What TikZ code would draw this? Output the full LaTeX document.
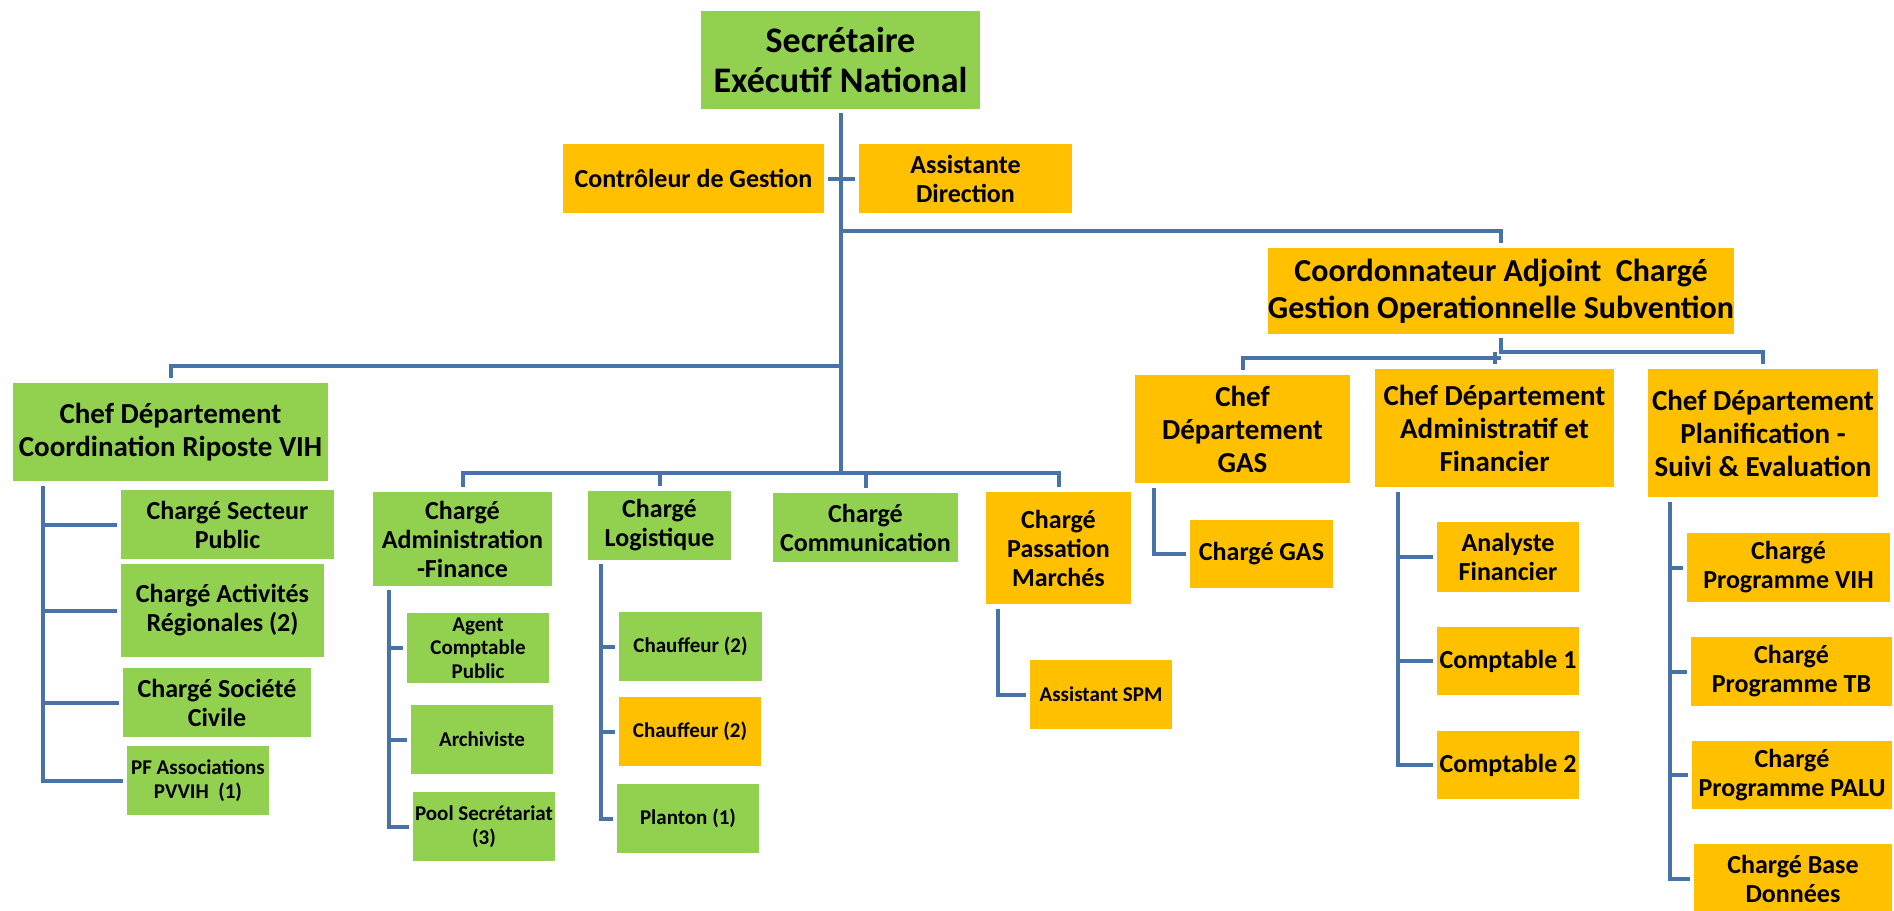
\documentclass[tikz,border=0pt]{standalone}
\usepackage{fontspec}
\setmainfont{Carlito}
\usepackage{tikz}
\definecolor{boxgreen}{RGB}{146,208,80}
\definecolor{boxorange}{RGB}{255,192,0}
\definecolor{linkblue}{RGB}{72,114,170}
\tikzset{
  box/.style={rectangle, inner sep=0pt, align=center},
  toptext/.style={font=\bfseries\fontsize{36}{40}\selectfont},
  headtext/.style={font=\bfseries\fontsize{32}{37}\selectfont},
  deptext/.style={font=\bfseries\fontsize{29}{33}\selectfont},
  postext/.style={font=\bfseries\fontsize{26}{29}\selectfont},
  subtext/.style={font=\bfseries\fontsize{21}{23.5}\selectfont},
  link/.style={draw=linkblue, line width=4pt}
}

\begin{document}
\begin{tikzpicture}[x=1pt, y=-1pt]
   \useasboundingbox (0,0) rectangle (1894,910);
   \begin{scope}[every node/.style={box, fill=boxgreen}]
    % direction
    \node[toptext, minimum width=279pt, minimum height=98pt] (sen) at (840.5,60) {Secrétaire\\Exécutif National};
    \node[postext, fill=boxorange, minimum width=261pt, minimum height=69pt] (ctrl) at (693.5,178.5) {Contrôleur de Gestion};
    \node[postext, fill=boxorange, minimum width=213pt, minimum height=69pt] (asst) at (965.5,178.5) {Assistante\\Direction};
    \node[headtext, fill=boxorange, minimum width=466pt, minimum height=86pt] (coord) at (1501,291) {Coordonnateur Adjoint~ Chargé\\Gestion Operationnelle Subvention};
    % departements
    \node[deptext, minimum width=315pt, minimum height=98pt] (vih) at (170.5,432) {Chef Département\\Coordination Riposte VIH};
    \node[deptext, fill=boxorange, minimum width=215pt, minimum height=108pt] (gas) at (1242.5,429) {Chef\\Département\\GAS};
    \node[deptext, fill=boxorange, minimum width=239pt, minimum height=118pt] (daf) at (1494.5,428) {Chef Département\\Administratif et\\Financier};
    \node[deptext, fill=boxorange, minimum width=230pt, minimum height=128pt] (pse) at (1763,433) {Chef Département\\Planification -\\Suivi \& Evaluation};
    % charges
    \node[postext, minimum width=179pt, minimum height=94pt] (caf) at (462.5,539) {Chargé\\Administration\\-Finance};
    \node[postext, minimum width=143pt, minimum height=69pt] (clog) at (659.5,525.5) {Chargé\\Logistique};
    \node[postext, minimum width=185pt, minimum height=69pt] (ccom) at (865.5,527.5) {Chargé\\Communication};
    \node[postext, fill=boxorange, minimum width=145pt, minimum height=112pt] (cpm) at (1058.5,548) {Chargé\\Passation\\Marchés};
    % VIH
    \node[postext, minimum width=213pt, minimum height=69pt] (csp) at (227.5,524.5) {Chargé Secteur\\Public};
    \node[postext, minimum width=203pt, minimum height=93pt] (car) at (222.5,610.5) {Chargé Activités\\Régionales (2)};
    \node[postext, minimum width=188pt, minimum height=69pt] (csc) at (217,702.5) {Chargé Société\\Civile};
    \node[subtext, minimum width=142pt, minimum height=69pt] (pfa) at (198,780.5) {PF Associations\\PVVIH~ (1)};
    % administration-finance
    \node[subtext, minimum width=142pt, minimum height=70pt] (acp) at (478,648) {Agent\\Comptable\\Public};
    \node[subtext, minimum width=142pt, minimum height=69pt] (arc) at (482,739.5) {Archiviste};
    \node[subtext, minimum width=142pt, minimum height=69pt] (pool) at (484,826.5) {Pool Secrétariat\\(3)};
    % logistique
    \node[subtext, minimum width=143pt, minimum height=69pt] (ch1) at (690.5,646.5) {Chauffeur (2)};
    \node[subtext, fill=boxorange, minimum width=142pt, minimum height=69pt] (ch2) at (690,731.5) {Chauffeur (2)};
    \node[subtext, minimum width=142pt, minimum height=69pt] (plan) at (688,818.5) {Planton (1)};
    % passation
    \node[subtext, fill=boxorange, minimum width=142pt, minimum height=69pt] (spm) at (1101,694.5) {Assistant SPM};
    % GAS, DAF, PSE
    \node[postext, fill=boxorange, minimum width=143pt, minimum height=68pt] (cgas) at (1261.5,554) {Chargé GAS};
    \node[postext, fill=boxorange, minimum width=142pt, minimum height=70pt] (ana) at (1508,557) {Analyste\\Financier};
    \node[postext, fill=boxorange, minimum width=142pt, minimum height=68pt] (cpt1) at (1508,661) {Comptable 1};
    \node[postext, fill=boxorange, minimum width=142pt, minimum height=68pt] (cpt2) at (1508,765) {Comptable 2};
    \node[postext, fill=boxorange, minimum width=203pt, minimum height=69pt] (pvih) at (1788.5,567.5) {Chargé\\Programme VIH};
    \node[postext, fill=boxorange, minimum width=201pt, minimum height=69pt] (ptb) at (1791.5,671.5) {Chargé\\Programme TB};
    \node[postext, fill=boxorange, minimum width=200pt, minimum height=68pt] (palu) at (1792,775) {Chargé\\Programme PALU};
    \node[postext, fill=boxorange, minimum width=198pt, minimum height=69pt] (bdd) at (1793,878.5) {Chargé Base\\Données};
   \end{scope}
   % junctions
   \coordinate (rightjoin) at (840.5,231);
   \coordinate (leftjoin) at (840.5,366);
   \coordinate (rowjoin) at (840.5,473);
   \coordinate (coordjoin) at (1501,352);
   \coordinate (gasjoin) at (1501,358);
   \coordinate (vihspine) at ([shift={(30pt,-5pt)}]vih.south west);
   \coordinate (cafspine) at ([shift={(16pt,-4pt)}]caf.south west);
   \coordinate (logspine) at ([shift={(13pt,-4pt)}]clog.south west);
   \coordinate (pmspine) at ([shift={(12pt,-5pt)}]cpm.south west);
   \coordinate (gasspine) at ([shift={(19pt,-5pt)}]gas.south west);
   \coordinate (dafspine) at ([shift={(23pt,-5pt)}]daf.south west);
   \coordinate (psespine) at ([shift={(22pt,-5pt)}]pse.south west);
   \begin{scope}[every path/.style={link}]
    \draw ([yshift=-4pt]sen.south) -- (rowjoin);
    \draw ([xshift=4pt]ctrl.east) -- ([xshift=-4pt]asst.west);
    \draw (rightjoin) -| ([yshift=5pt]coord.north);
    \draw (leftjoin) -| ([yshift=5pt]vih.north);
    \foreach \n in {caf,clog,ccom,cpm}
      \draw (rowjoin) -| ([yshift=5pt]\n.north);
    \draw ([yshift=-4pt]coord.south) -- (coordjoin) -| ([yshift=5pt]pse.north);
    \draw (gasjoin) -| ([yshift=5pt]gas.north);
    \draw (daf.north |- coordjoin) -- ([yshift=5pt]daf.north);
    % spines
    \draw (vihspine) |- ([xshift=-4pt]pfa.west);
    \foreach \n in {csp,car,csc}
      \draw (vihspine |- \n.west) -- ([xshift=-4pt]\n.west);
    \draw (cafspine) |- ([xshift=-4pt]pool.west);
    \foreach \n in {acp,arc}
      \draw (cafspine |- \n.west) -- ([xshift=-4pt]\n.west);
    \draw (logspine) |- ([xshift=-4pt]plan.west);
    \foreach \n in {ch1,ch2}
      \draw (logspine |- \n.west) -- ([xshift=-4pt]\n.west);
    \draw (pmspine) |- ([xshift=-4pt]spm.west);
    \draw (gasspine) |- ([xshift=-4pt]cgas.west);
    \draw (dafspine) |- ([xshift=-4pt]cpt2.west);
    \foreach \n in {ana,cpt1}
      \draw (dafspine |- \n.west) -- ([xshift=-4pt]\n.west);
    \draw (psespine) |- ([xshift=-4pt]bdd.west);
    \foreach \n in {pvih,ptb,palu}
      \draw (psespine |- \n.west) -- ([xshift=-4pt]\n.west);
   \end{scope}
\end{tikzpicture}
\end{document}
